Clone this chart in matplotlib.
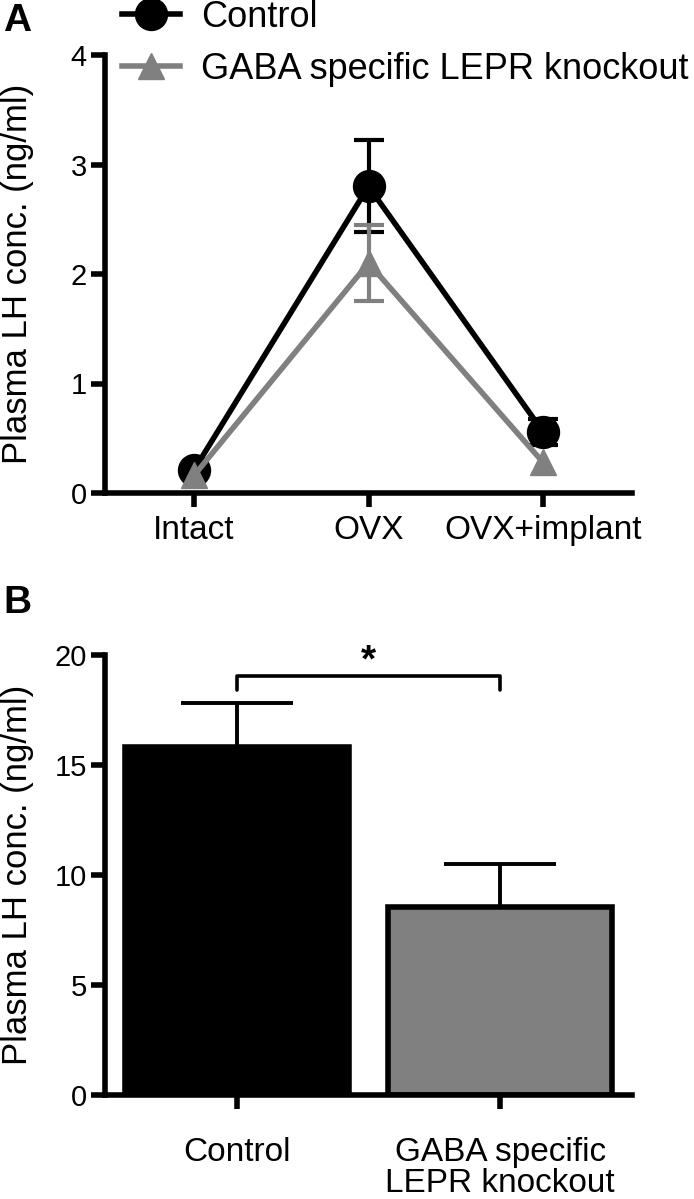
import numpy as np
import matplotlib
matplotlib.use("Agg")
import matplotlib.pyplot as plt

plt.rcParams["font.family"] = ["Liberation Sans", "DejaVu Sans"]

# panel A: LH across conditions (nan = error bar hidden behind the marker)
conditions = ["Intact", "OVX", "OVX+implant"]
control_mean = [0.21, 2.80, 0.56]
control_sem = [0.04, 0.42, 0.12]
ko_mean = [0.16, 2.10, 0.28]
ko_sem = [np.nan, 0.35, np.nan]

# panel B: LH by group
groups = ["Control", "GABA specific\nLEPR knockout"]
group_mean = [15.82, 8.55]
group_sem = [2.0, 1.95]
sig_y = 19.05
sig_leg = 18.4

BLACK = "black"
GRAY = "#808080"
W, H = 694, 1199

fig = plt.figure(figsize=(W / 100, H / 100), dpi=100)
axA = fig.add_axes([105 / W, (H - 493) / H, 527 / W, 438 / H])
axB = fig.add_axes([105 / W, (H - 1095) / H, 527 / W, 440 / H])


def style_axes(ax, xpad):
    for side in ("top", "right"):
        ax.spines[side].set_visible(False)
    for side in ("left", "bottom"):
        ax.spines[side].set_linewidth(4)
        ax.spines[side].set_capstyle("projecting")
    ax.tick_params(axis="both", direction="out", length=10, width=4)
    ax.tick_params(axis="y", labelsize=21, pad=3)
    ax.tick_params(axis="x", labelsize=24, pad=xpad)
    ax.set_ylabel("Plasma LH conc. (ng/ml)", fontsize=25)
    # right edge of the rotated label sits here
    ax.yaxis.set_label_coords(-0.135, 0.5)


# ---- A ----
x = np.arange(len(conditions))
c_line = axA.errorbar(x, control_mean, yerr=control_sem, color=BLACK, lw=4,
                      marker="o", ms=23, capsize=11, elinewidth=3, capthick=3,
                      label="Control", zorder=3)
k_line = axA.errorbar(x, ko_mean, yerr=ko_sem, color=GRAY, lw=4,
                      marker="^", ms=19, capsize=11, elinewidth=3, capthick=3,
                      label="GABA specific LEPR knockout", zorder=4)
axA.set_xlim(-0.51, 2.51)
axA.set_ylim(0, 4)
axA.set_yticks([0, 1, 2, 3, 4])
axA.set_xticks(x)
axA.set_xticklabels(conditions)
style_axes(axA, 6)

fig.legend(handles=[c_line[0], k_line[0]], labels=["Control", "GABA specific LEPR knockout"],
           loc="upper left", bbox_to_anchor=(122 / W, 1.0), frameon=False,
           fontsize=26, handlelength=1.6, handletextpad=0.6, labelspacing=0.47,
           borderpad=0, borderaxespad=0)

# ---- B ----
xb = np.arange(len(groups))
axB.bar(xb, group_mean, width=0.85, color=[BLACK, GRAY], edgecolor=BLACK,
        linewidth=4, zorder=2)
eb = axB.errorbar(xb, group_mean, yerr=[np.zeros(len(groups)), group_sem],
                  fmt="none", ecolor=BLACK, elinewidth=2.8, capsize=40,
                  capthick=2.8, zorder=1)
eb[1][0].set_visible(False)
axB.plot([xb[0], xb[0], xb[1], xb[1]], [sig_leg, sig_y, sig_y, sig_leg],
         color=BLACK, lw=2.6, clip_on=False, solid_capstyle="round")
axB.text((xb[0] + xb[1]) / 2, sig_y - 0.15, "*", ha="center", va="bottom",
         fontsize=28, fontweight="bold", clip_on=False)
axB.set_xlim(-0.5, 1.5)
axB.set_ylim(0, 20)
axB.set_yticks([0, 5, 10, 15, 20])
axB.set_xticks(xb)
axB.set_xticklabels(groups, linespacing=1.0)
style_axes(axB, 20)

fig.text(3 / W, 1 - 3 / H, "A", fontsize=28, fontweight="bold", ha="left", va="top")
fig.text(3 / W, 1 - 585 / H, "B", fontsize=28, fontweight="bold", ha="left", va="top")

fig.savefig("out.png", dpi=100)
